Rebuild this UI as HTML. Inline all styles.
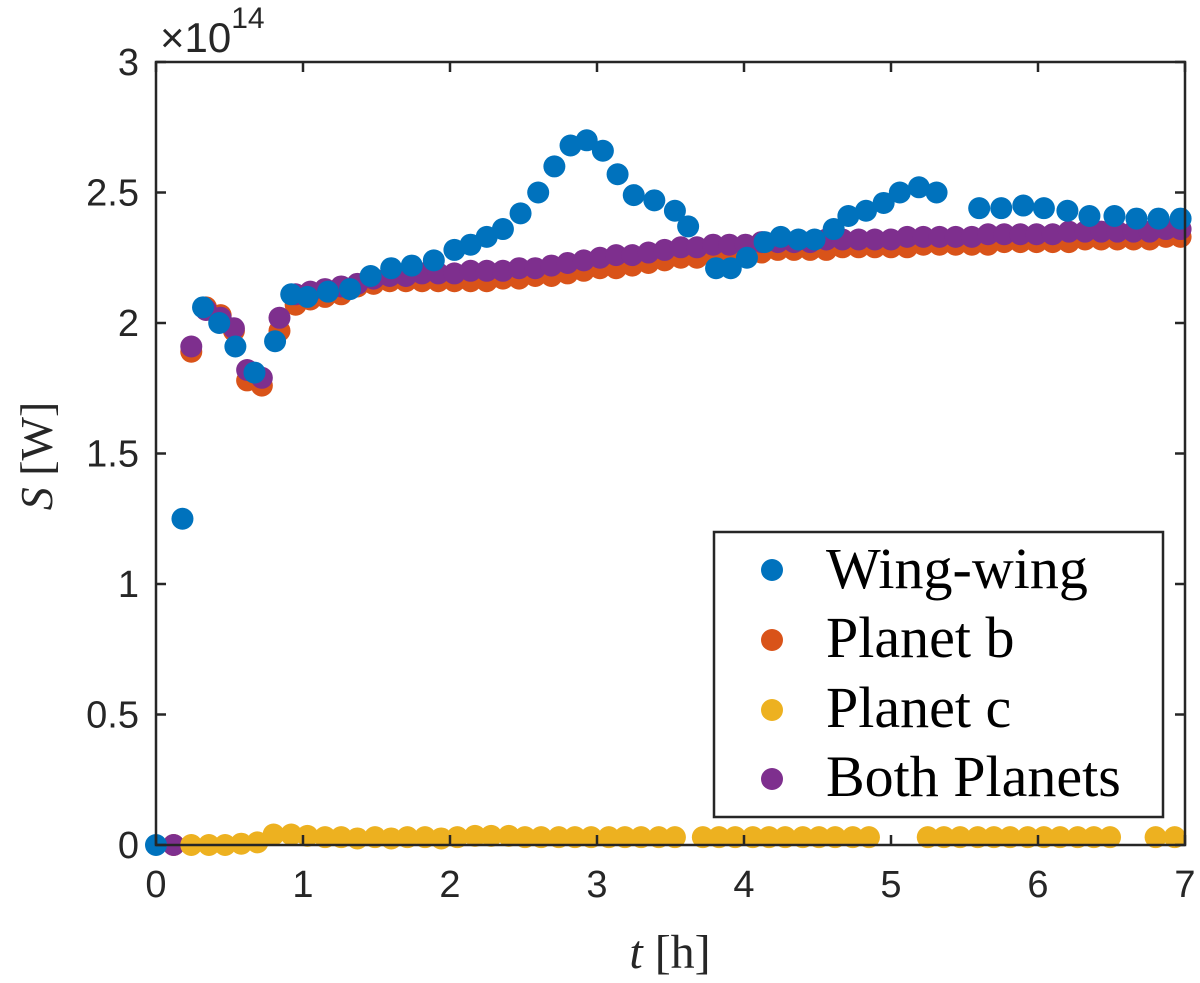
<!DOCTYPE html>
<html><head><meta charset="utf-8"><style>
body{margin:0;background:#fff;}
svg{display:block;}
.tick{font-family:"Liberation Sans",sans-serif;font-size:38px;fill:#262626;}
.leg{font-family:"Liberation Serif",serif;font-size:58px;fill:#000;}
</style></head><body>
<svg id="chart" width="1200" height="983" viewBox="0 0 1200 983">
<g id="marks"></g>
<g id="axes"></g>
</svg>
<script>
const xTicks=[0,1,2,3,4,5,6,7];
const yTicks=[0,0.5,1,1.5,2,2.5,3];
const yTickLabels=["0","0.5","1","1.5","2","2.5","3"];
const wingT=[0,0.18,0.32,0.43,0.54,0.67,0.81,0.92,1.03,1.17,1.32,1.46,1.60,1.74,1.89,2.03,2.14,2.25,2.36,2.48,2.60,2.71,2.82,2.93,3.04,3.14,3.25,3.39,3.53,3.62,3.81,3.91,4.02,4.14,4.25,4.37,4.48,4.61,4.71,4.83,4.95,5.06,5.19,5.31,5.60,5.75,5.90,6.04,6.20,6.35,6.52,6.67,6.82,6.97];
const wingV=[0,1.25,2.06,2.00,1.91,1.81,1.93,2.11,2.10,2.12,2.13,2.18,2.21,2.22,2.24,2.28,2.30,2.33,2.36,2.42,2.50,2.60,2.68,2.70,2.66,2.57,2.49,2.47,2.43,2.37,2.21,2.21,2.25,2.31,2.33,2.32,2.32,2.36,2.41,2.43,2.46,2.50,2.52,2.50,2.44,2.44,2.45,2.44,2.43,2.41,2.41,2.40,2.40,2.40];
const bothT=[0.12,0.24,0.34,0.44,0.53,0.62,0.72,0.84,0.95,1.05,1.15,1.26,1.37,1.48,1.59,1.70,1.81,1.92,2.03,2.14,2.25,2.36,2.47,2.58,2.69,2.80,2.91,3.02,3.13,3.24,3.35,3.46,3.57,3.68,3.79,3.90,4.01,4.12,4.23,4.34,4.45,4.56,4.67,4.78,4.89,5.00,5.11,5.22,5.33,5.44,5.55,5.66,5.77,5.88,5.99,6.10,6.21,6.32,6.43,6.54,6.65,6.76,6.87,6.97];
const bothV=[0,1.91,2.05,2.02,1.98,1.82,1.79,2.02,2.11,2.12,2.13,2.14,2.15,2.17,2.18,2.18,2.19,2.19,2.19,2.20,2.20,2.20,2.21,2.21,2.22,2.23,2.24,2.25,2.26,2.26,2.27,2.28,2.29,2.29,2.30,2.30,2.30,2.31,2.31,2.31,2.31,2.32,2.32,2.32,2.32,2.32,2.33,2.33,2.33,2.33,2.33,2.34,2.34,2.34,2.34,2.34,2.35,2.35,2.35,2.35,2.35,2.35,2.36,2.36];
const planetBV=[0,1.89,2.06,2.03,1.97,1.78,1.76,1.97,2.07,2.09,2.10,2.11,2.14,2.15,2.16,2.16,2.16,2.16,2.16,2.16,2.16,2.17,2.17,2.18,2.18,2.19,2.20,2.21,2.21,2.22,2.23,2.24,2.25,2.25,2.26,2.26,2.27,2.27,2.28,2.28,2.28,2.28,2.29,2.29,2.29,2.29,2.29,2.30,2.30,2.30,2.30,2.30,2.31,2.31,2.31,2.31,2.31,2.32,2.32,2.32,2.32,2.32,2.33,2.33];
const planetCT=[0.24,0.36,0.47,0.58,0.69,0.80,0.92,1.03,1.15,1.26,1.37,1.49,1.60,1.71,1.83,1.94,2.05,2.17,2.28,2.40,2.51,2.62,2.74,2.85,2.96,3.08,3.19,3.30,3.42,3.53,3.72,3.83,3.94,4.06,4.17,4.28,4.40,4.51,4.62,4.74,4.85,5.25,5.36,5.47,5.59,5.70,5.81,5.93,6.04,6.15,6.27,6.38,6.49,6.80,6.93];
const planetCV=[0,0,0,0.005,0.01,0.04,0.04,0.035,0.03,0.03,0.025,0.03,0.025,0.03,0.03,0.025,0.03,0.035,0.035,0.035,0.03,0.03,0.03,0.03,0.03,0.03,0.03,0.03,0.03,0.03,0.03,0.03,0.03,0.03,0.03,0.03,0.03,0.03,0.03,0.03,0.03,0.03,0.03,0.03,0.03,0.03,0.03,0.03,0.03,0.03,0.03,0.03,0.03,0.03,0.03];

const X0=156,X1=1185,Y0=845,Y1=62;
const xs=t=>X0+(X1-X0)*t/7;
const ys=v=>Y0-(Y0-Y1)*v/3;
const NS="http://www.w3.org/2000/svg";
const marks=document.getElementById('marks');
const axes=document.getElementById('axes');
function mk(tag,attrs,parent){const e=document.createElementNS(NS,tag);for(const k in attrs)e.setAttribute(k,attrs[k]);parent.appendChild(e);return e;}

function series(T,V,color,name){
  const g=mk('g',{},marks);
  
  
  for(let i=0;i<T.length;i++){
    const c=mk('circle',{cx:xs(T[i]),cy:ys(V[i]),r:11,fill:color},g);
    
    
  }
}
series(bothT,planetBV,'#D95319','planet-b');
series(bothT,bothV,'#7E2F8E','both-planets');
series(planetCT,planetCV,'#EDB120','planet-c');
series(wingT,wingV,'#0072BD','wing-wing');

const box=mk('rect',{x:X0,y:Y1,width:X1-X0,height:Y0-Y1,fill:'none',stroke:'#262626','stroke-width':2.5},axes);


xTicks.forEach(t=>{
  const x=xs(t);
  mk('line',{x1:x,y1:Y0,x2:x,y2:Y0-10,stroke:'#262626','stroke-width':2.5},axes);
  mk('line',{x1:x,y1:Y1,x2:x,y2:Y1+10,stroke:'#262626','stroke-width':2.5},axes);
  const tx=mk('text',{x:x,y:897,'text-anchor':'middle',class:'tick'},axes);
  tx.textContent=String(t);
  
  
});
yTicks.forEach((v,i)=>{
  const y=ys(v);
  mk('line',{x1:X0,y1:y,x2:X0+10,y2:y,stroke:'#262626','stroke-width':2.5},axes);
  mk('line',{x1:X1,y1:y,x2:X1-10,y2:y,stroke:'#262626','stroke-width':2.5},axes);
  const tx=mk('text',{x:139,y:y+13,'text-anchor':'end',class:'tick'},axes);
  tx.textContent=yTickLabels[i];
  
  
});
</script>
<svg style="position:absolute;left:0;top:0" width="1200" height="983">
<text x="160" y="52" class="tick" style="font-size:42px">×10<tspan dy="-24" style="font-size:30px">14</tspan></text>
<text transform="translate(52,456) rotate(-90)" text-anchor="middle" style="font-family:'Liberation Serif',serif;font-size:46px;fill:#262626"><tspan font-style="italic">S</tspan> [W]</text>
<text x="670" y="968" text-anchor="middle" style="font-family:'Liberation Serif',serif;font-size:48px;fill:#262626"><tspan font-style="italic">t</tspan> [h]</text>
<g>
<rect x="714" y="532" width="449" height="285" fill="#fff" stroke="#262626" stroke-width="2.5"/>
<g><circle cx="772" cy="570" r="11" fill="#0072BD"/><text x="826" y="588" class="leg">Wing-wing</text></g>
<g><circle cx="772" cy="640" r="11" fill="#D95319"/><text x="826" y="657" class="leg">Planet b</text></g>
<g><circle cx="772" cy="710" r="11" fill="#EDB120"/><text x="826" y="727" class="leg">Planet c</text></g>
<g><circle cx="772" cy="779" r="11" fill="#7E2F8E"/><text x="826" y="796" class="leg">Both Planets</text></g>
</g>
</svg>
</body></html>
